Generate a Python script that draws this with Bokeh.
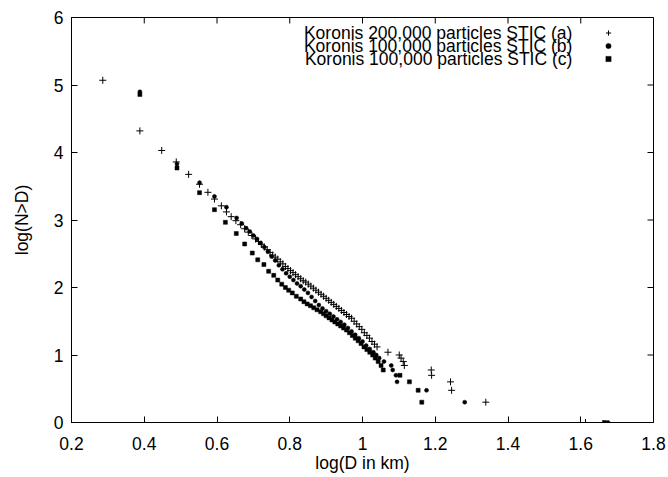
from bokeh.plotting import figure
from bokeh.models import Range1d, FixedTicker, Label, Legend, LegendItem, ColumnDataSource
from bokeh.embed import file_html
from bokeh.resources import INLINE

# ---- data: (log D, log N>D) ----
series_a = [(0.286, 5.07), (0.388, 4.32), (0.448, 4.03), (0.488, 3.86), (0.522, 3.676),
            (0.552, 3.53), (0.575, 3.41), (0.593, 3.31), (0.612, 3.21), (0.626, 3.12),
            (0.639, 3.05), (0.652, 2.99), (0.665, 2.93), (0.676, 2.87), (0.686, 2.82),
            (0.696, 2.77), (0.706, 2.72), (0.714, 2.68), (0.722, 2.64), (0.730, 2.60),
            (0.738, 2.56), (0.746, 2.52), (0.753, 2.48), (0.760, 2.45), (0.767, 2.42),
            (0.774, 2.38), (0.781, 2.35), (0.788, 2.31), (0.795, 2.28), (0.802, 2.25),
            (0.809, 2.22), (0.816, 2.19), (0.823, 2.16), (0.830, 2.13), (0.837, 2.10),
            (0.844, 2.08), (0.851, 2.05), (0.858, 2.02), (0.865, 1.99), (0.872, 1.96),
            (0.879, 1.93), (0.886, 1.90), (0.893, 1.87), (0.900, 1.84), (0.907, 1.81),
            (0.914, 1.78), (0.921, 1.75), (0.928, 1.72), (0.935, 1.69), (0.942, 1.66),
            (0.949, 1.63), (0.956, 1.60), (0.963, 1.57), (0.970, 1.545), (0.977, 1.50),
            (0.984, 1.46), (0.991, 1.42), (0.998, 1.38), (1.005, 1.33), (1.012, 1.29),
            (1.019, 1.25), (1.026, 1.20), (1.033, 1.16), (1.040, 1.12), (1.070, 1.041),
            (1.101, 1.0), (1.106, 0.954), (1.112, 0.903), (1.115, 0.845), (1.189, 0.778),
            (1.190, 0.699), (1.242, 0.602), (1.245, 0.477), (1.339, 0.301), (1.613, 0.0)]

series_b = [(0.388, 4.90), (0.490, 3.83), (0.552, 3.553), (0.593, 3.35), (0.626, 3.19),
            (0.654, 3.03), (0.668, 2.95), (0.680, 2.88), (0.690, 2.83), (0.700, 2.77),
            (0.710, 2.72), (0.720, 2.66), (0.730, 2.60), (0.740, 2.53), (0.750, 2.46),
            (0.760, 2.40), (0.770, 2.33), (0.780, 2.27), (0.790, 2.21), (0.800, 2.16),
            (0.810, 2.11), (0.820, 2.06), (0.830, 2.02), (0.840, 1.97), (0.850, 1.92),
            (0.860, 1.86), (0.870, 1.80), (0.880, 1.74), (0.890, 1.69), (0.900, 1.65),
            (0.910, 1.61), (0.920, 1.57), (0.930, 1.53), (0.940, 1.49), (0.950, 1.45),
            (0.960, 1.40), (0.970, 1.35), (0.980, 1.30), (0.990, 1.25), (1.000, 1.20),
            (1.010, 1.14), (1.020, 1.09), (1.030, 1.04), (1.038, 1.0), (1.046, 0.954),
            (1.059, 0.903), (1.079, 0.845), (1.083, 0.778), (1.092, 0.699), (1.095, 0.602),
            (1.176, 0.477), (1.281, 0.301), (1.675, 0.0)]

series_c = [(0.388, 4.86), (0.490, 3.77), (0.552, 3.405), (0.593, 3.153), (0.623, 2.965),
            (0.653, 2.80), (0.676, 2.645), (0.697, 2.51), (0.712, 2.41), (0.729, 2.34),
            (0.742, 2.24), (0.756, 2.18), (0.767, 2.11), (0.778, 2.05), (0.788, 2.0),
            (0.797, 1.96), (0.807, 1.92), (0.818, 1.87), (0.830, 1.83), (0.839, 1.79),
            (0.848, 1.757), (0.857, 1.73), (0.866, 1.70), (0.875, 1.67), (0.885, 1.64),
            (0.893, 1.61), (0.900, 1.58), (0.908, 1.55), (0.916, 1.52), (0.924, 1.49),
            (0.932, 1.46), (0.940, 1.43), (0.948, 1.40), (0.956, 1.37), (0.964, 1.33),
            (0.972, 1.29), (0.980, 1.25), (0.988, 1.21), (0.996, 1.17), (1.004, 1.12),
            (1.012, 1.08), (1.020, 1.041), (1.028, 1.0), (1.035, 0.954), (1.043, 0.903),
            (1.051, 0.845), (1.057, 0.778), (1.103, 0.699), (1.129, 0.602), (1.153, 0.477),
            (1.163, 0.301), (1.665, 0.0)]

labels = ["Koronis 200,000 particles STIC (a)",
          "Koronis 100,000 particles STIC (b)",
          "Koronis 100,000 particles STIC (c)"]
x_ticks = [0.2, 0.4, 0.6, 0.8, 1.0, 1.2, 1.4, 1.6, 1.8]
y_ticks = [0, 1, 2, 3, 4, 5, 6]
x_tick_labels = ["0.2", "0.4", "0.6", "0.8", "1", "1.2", "1.4", "1.6", "1.8"]
x_title = "log(D in km)"
y_title = "log(N>D)"

FONT = "Liberation Sans"
FS = "17.5px"
X0, X1, Y0, Y1 = 0.2, 1.8, 0, 6

p = figure(width=668, height=477, output_backend="svg", toolbar_location=None,
           x_range=Range1d(X0, X1), y_range=Range1d(Y0, Y1),
           min_border_left=71, min_border_right=15, min_border_top=17, min_border_bottom=55,
           background_fill_color="white", border_fill_color="white")
p.grid.visible = False
p.outline_line_color = "black"
p.outline_line_width = 1


def src(pts):
    return ColumnDataSource(dict(x=[q[0] for q in pts], y=[q[1] for q in pts]))


ra = p.scatter("x", "y", source=src(series_a), marker="cross", size=7,
               line_color="black", line_width=1)
rb = p.scatter("x", "y", source=src(series_b), marker="circle", size=4,
               line_color="black", fill_color="black", line_width=0.5)
rc = p.scatter("x", "y", source=src(series_c), marker="square", size=4,
               line_color="black", fill_color="black", line_width=0.5)

# mirrored inward ticks on top and right borders (derived from the tick lists)
tick_dy = 6 / 67.5
tick_dx = 6 / 363.75
p.segment(x0=x_ticks, y0=[Y1] * len(x_ticks), x1=x_ticks, y1=[Y1 - tick_dy] * len(x_ticks),
          line_color="black", line_width=1)
p.segment(x0=[X1] * len(y_ticks), y0=y_ticks, x1=[X1 - tick_dx] * len(y_ticks), y1=y_ticks,
          line_color="black", line_width=1)

# axes
for ax in (p.xaxis[0], p.yaxis[0]):
    ax.major_tick_in = 6
    ax.major_tick_out = 0
    ax.minor_tick_in = 0
    ax.minor_tick_out = 0
    ax.axis_line_color = "black"
    ax.major_tick_line_color = "black"
    ax.major_label_text_font = FONT
    ax.major_label_text_font_size = FS
    ax.major_label_text_color = "black"
    ax.axis_label_text_font = FONT
    ax.axis_label_text_font_size = FS
    ax.axis_label_text_font_style = "normal"
    ax.axis_label_text_color = "black"

p.xaxis[0].ticker = FixedTicker(ticks=x_ticks)
p.yaxis[0].ticker = FixedTicker(ticks=y_ticks)
p.xaxis[0].major_label_overrides = dict(zip(x_ticks, x_tick_labels))
p.xaxis[0].axis_label = x_title
p.yaxis[0].axis_label = y_title
p.xaxis[0].major_label_standoff = 14
p.xaxis[0].axis_label_standoff = 0
p.yaxis[0].major_label_standoff = 8
p.yaxis[0].axis_label_standoff = 19

# legend: text right-aligned, key glyph to the right
legend = Legend(items=[LegendItem(label=" ", renderers=[ra]),
                       LegendItem(label=" ", renderers=[rb]),
                       LegendItem(label=" ", renderers=[rc])],
                location=(530, 357), glyph_width=14, glyph_height=13, label_height=13,
                label_width=0, label_standoff=0, spacing=0, padding=0, margin=0,
                border_line_color=None, background_fill_alpha=0,
                label_text_font_size="1px")
p.add_layout(legend)

row_y = [5.766, 5.574, 5.381]
for txt, yy in zip(labels, row_y):
    p.add_layout(Label(x=1.577, y=yy, text=txt, text_align="right", text_baseline="middle",
                       text_font=FONT, text_font_size=FS, text_color="black"))

open("out.html", "w").write(file_html(p, INLINE))
